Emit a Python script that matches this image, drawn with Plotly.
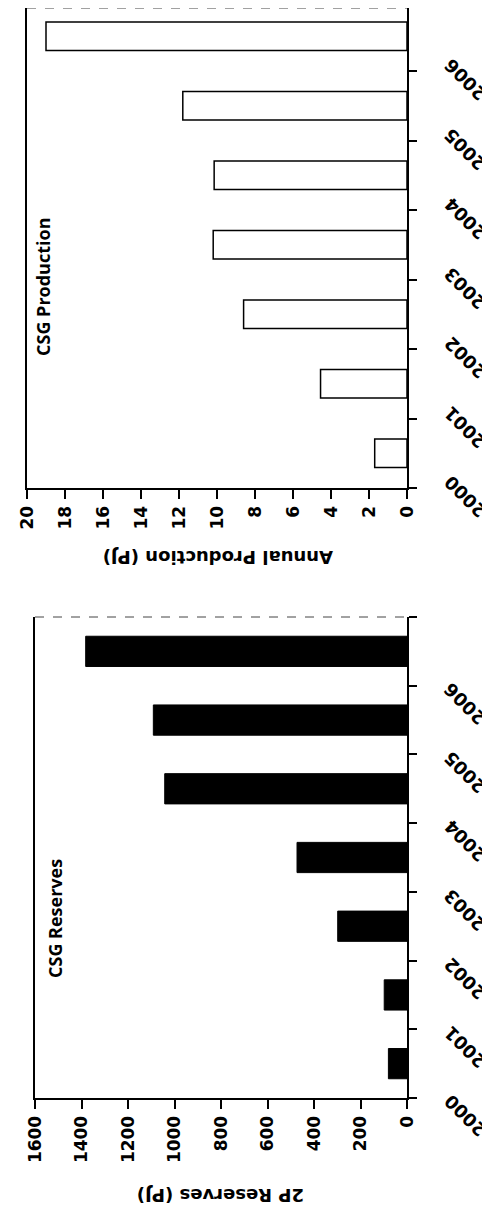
import plotly.graph_objects as go

years = [2000, 2001, 2002, 2003, 2004, 2005, 2006]
production_pj = [1.7, 4.55, 8.6, 10.2, 10.15, 11.8, 19.0]
reserves_pj = [80, 98, 298, 473, 1042, 1091, 1382]
prod_ticks = [0, 2, 4, 6, 8, 10, 12, 14, 16, 18, 20]
res_ticks = [0, 200, 400, 600, 800, 1000, 1200, 1400, 1600]
year_bounds = [y - 0.5 for y in years] + [years[-1] + 0.5]

# page body has an 8px default margin; figure sized to fit the window
OFF = 8
W, H = 490 - OFF, 1217 - OFF

def fx(px):
    return (px - OFF) / W

def fy(py):
    return 1 - (py - OFF) / H

tick_font = dict(family="DejaVu Sans", size=17, color="black", weight="bold")
title_font = dict(family="DejaVu Sans", size=18, color="black", weight="bold")
panel_font = dict(family="Open Sans", size=18, color="black", weight="bold")
year_font = dict(family="DejaVu Sans", size=18, color="black", weight="bold")

fig = go.Figure()
fig.add_trace(go.Bar(x=production_pj, y=years, orientation="h", xaxis="x", yaxis="y",
                     marker=dict(color="white", line=dict(color="black", width=1.5)),
                     width=0.41, showlegend=False))
fig.add_trace(go.Bar(x=reserves_pj, y=years, orientation="h", xaxis="x2", yaxis="y2",
                     marker=dict(color="black", line=dict(color="black", width=1)),
                     width=0.44, showlegend=False))

def xax(dom, rng, tv, anchor):
    return dict(domain=dom, anchor=anchor, range=rng, tickvals=tv, ticktext=[str(t) for t in tv],
                tickangle=-90, ticks="outside", ticklen=9, tickwidth=1.5, tickcolor="black",
                showline=True, linewidth=2, linecolor="black", showgrid=False, zeroline=False,
                tickfont=tick_font)

def yax(dom, anchor, top):
    return dict(domain=dom, anchor=anchor, side="right", range=[years[0] - 0.5, top],
                tickvals=year_bounds, showticklabels=False, ticks="outside", ticklen=8,
                tickwidth=1.5, tickcolor="black", showline=True, mirror=True, linewidth=2,
                linecolor="black", showgrid=False, zeroline=False)

# top panel: axis at page y=488, category pitch 69.5 px; its top edge lies just above the page top
top_y = [fy(488), 1.0]
top_range_max = years[0] - 0.5 + (488 - OFF) / 69.5
bot_y = [fy(1098), fy(617)]

annotations = []
for y in years:
    annotations.append(dict(text=str(y), xref="x domain", yref="y", x=1, y=y - 0.5,
                            xshift=58, yshift=-9, xanchor="center", yanchor="middle",
                            textangle=-135, showarrow=False, font=year_font))
    annotations.append(dict(text=str(y), xref="x2 domain", yref="y2", x=1, y=y - 0.5,
                            xshift=58, yshift=-18, xanchor="center", yanchor="middle",
                            textangle=-135, showarrow=False, font=year_font))

annotations += [
    dict(text="Annual Production (PJ)", xref="paper", yref="paper", x=fx(218), y=fy(558),
         textangle=180, showarrow=False, font=title_font, xanchor="center", yanchor="middle"),
    dict(text="2P Reserves (PJ)", xref="paper", yref="paper", x=fx(221), y=fy(1196),
         textangle=180, showarrow=False, font=title_font, xanchor="center", yanchor="middle"),
    dict(text="CSG Production", xref="paper", yref="paper", x=fx(43), y=fy(287),
         textangle=-90, showarrow=False, font=panel_font, xanchor="center", yanchor="middle"),
    dict(text="CSG Reserves", xref="paper", yref="paper", x=fx(55), y=fy(919),
         textangle=-90, showarrow=False, font=panel_font, xanchor="center", yanchor="middle"),
]

shapes = [
    dict(type="line", xref="x domain", yref="y domain", x0=0, x1=1, y0=1, y1=1,
         line=dict(color="#444", width=1, dash="dash")),
    dict(type="line", xref="x2 domain", yref="y2 domain", x0=0, x1=1, y0=1, y1=1,
         line=dict(color="#444", width=1, dash="dash")),
]

fig.update_layout(
    width=W, height=H, margin=dict(l=0, r=0, t=0, b=0, autoexpand=False),
    paper_bgcolor="white", plot_bgcolor="white",
    xaxis=xax([fx(27), fx(407)], [20, 0], prod_ticks, "y"),
    yaxis=yax(top_y, "x", top_range_max),
    xaxis2=xax([fx(35), fx(407)], [1600, 0], res_ticks, "y2"),
    yaxis2=yax(bot_y, "x2", years[-1] + 0.5),
    annotations=annotations, shapes=shapes, bargap=0.5,
)

fig.write_html("out.html")
